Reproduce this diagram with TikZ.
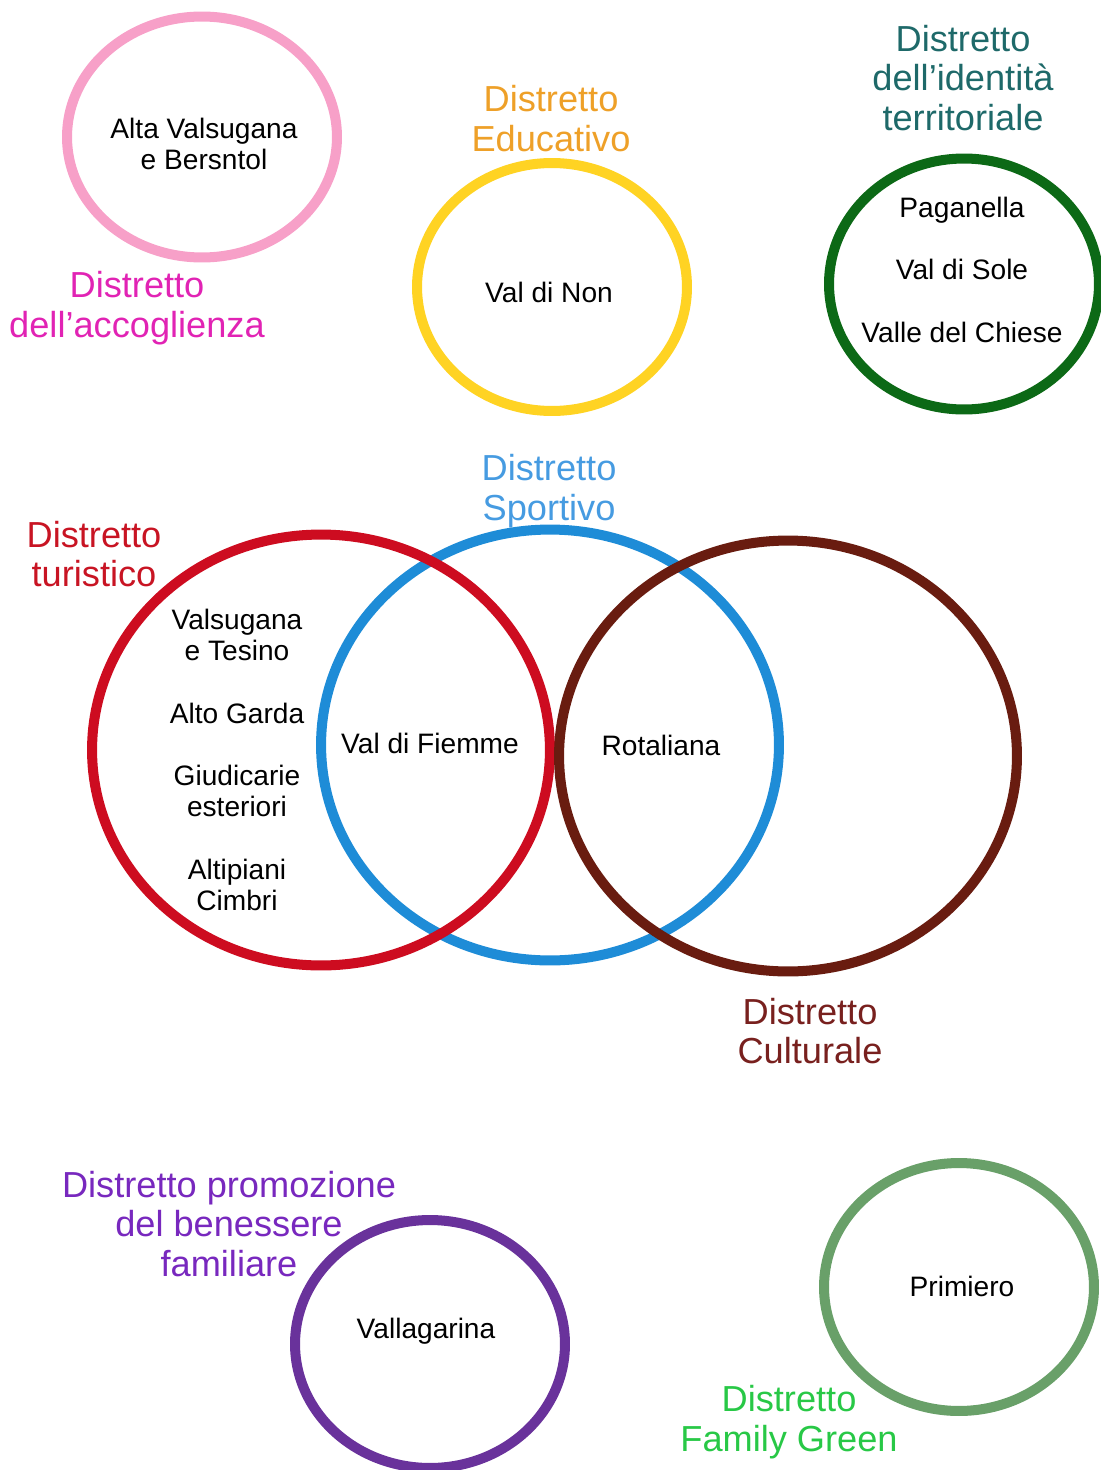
\documentclass[tikz,border=0pt]{standalone}
\usepackage{fontspec}
\setmainfont{Liberation Sans}
\usepackage{tikz}
\usetikzlibrary{positioning, shapes.geometric}
\usepackage{xcolor}

\definecolor{ringpink}{RGB}{247,160,200}
\definecolor{ringyellow}{RGB}{255,211,35}
\definecolor{ringdkgreen}{RGB}{12,105,22}
\definecolor{ringred}{RGB}{205,12,32}
\definecolor{ringblue}{RGB}{30,140,215}
\definecolor{ringbrown}{RGB}{105,28,16}
\definecolor{ringpurple}{RGB}{105,50,155}
\definecolor{ringsage}{RGB}{105,160,105}
\definecolor{tagpink}{RGB}{225,35,180}
\definecolor{tagorange}{RGB}{238,160,40}
\definecolor{tagteal}{RGB}{30,105,105}
\definecolor{tagblue}{RGB}{70,155,225}
\definecolor{tagred}{RGB}{200,20,35}
\definecolor{tagbrown}{RGB}{120,32,30}
\definecolor{tagpurple}{RGB}{120,40,190}
\definecolor{taggreen}{RGB}{40,200,70}

\begin{document}
\begin{tikzpicture}[
    x=0.02cm, y=-0.02cm,
    ring/.style={ellipse, draw, line width=5.7pt, inner sep=0pt, minimum width=5.4cm, minimum height=4.96cm},
    bigring/.style={ellipse, draw, line width=5.7pt, inner sep=0pt, minimum width=9.16cm, minimum height=8.62cm},
    place/.style={align=center, inner sep=0pt, font=\fontsize{16}{17.6}\selectfont},
    tag/.style={align=center, inner sep=0pt, font=\fontsize{20.6}{22.7}\selectfont}
]
    \useasboundingbox (0, 0) rectangle (1100, 1470);

    % Distretto dell'accoglienza
    \node[ring, draw=ringpink, minimum height=4.82cm] (acc) at (202, 137) {};
    \node[tag, text=tagpink] (accname) at (137, 308) {Distretto\\dell’accoglienza};
    \node[place] (accin) at (204, 144) {Alta Valsugana\\e Bersntol};

    % Distretto Educativo
    \node[ring, draw=ringyellow] (edu) at (552, 287) {};
    \node[tag, text=tagorange] (eduname) at (551, 119) {Distretto\\Educativo};
    \node[place, anchor=base] (non) at (549, 302) {Val di Non};

    % Distretto dell'identita territoriale
    \node[ring, draw=ringdkgreen, minimum height=5.02cm] (ident) at (964, 284) {};
    \node[tag, text=tagteal] (identname) at (963, 78) {Distretto\\dell’identità\\territoriale};
    \node[place, anchor=base] (pag) at (962, 217) {Paganella};
    \node[place, anchor=base] (sole) at (962, 279) {Val di Sole};
    \node[place, anchor=base] (chiese) at (962, 342) {Valle del Chiese};

    % Venn: turistico, Sportivo, Culturale
    \node[bigring, draw=ringblue] (sport) at (550, 745) {};
    \node[bigring, draw=ringred] (tur) at (321, 750) {};
    \node[bigring, draw=ringbrown] (cult) at (788, 756) {};
    \node[tag, text=tagblue] (sportname) at (549, 491) {Distretto\\Sportivo};
    \node[tag, text=tagred] (turname) at (94, 554) {Distretto\\turistico};
    \node[tag, text=tagbrown] (cultname) at (810, 1031) {Distretto\\Culturale};
    \node[place] (tesino) at (237, 635) {Valsugana\\e Tesino};
    \node[place, anchor=base] (garda) at (237, 723) {Alto Garda};
    \node[place] (giud) at (237, 791) {Giudicarie\\esteriori};
    \node[place] (cimbri) at (237, 885) {Altipiani\\Cimbri};
    \node[place, anchor=base] (fiemme) at (430, 753) {Val di Fiemme};
    \node[place, anchor=base] (rotal) at (661, 755) {Rotaliana};

    % Distretto promozione del benessere familiare
    \node[ring, draw=ringpurple] (ben) at (430, 1344) {};
    \node[tag, text=tagpurple] (benname) at (229, 1224) {Distretto promozione\\del benessere\\familiare};
    \node[place, anchor=base] (valla) at (426, 1338) {Vallagarina};

    % Distretto Family Green
    \node[ring, draw=ringsage] (fam) at (959, 1287) {};
    \node[tag, text=taggreen] (famname) at (789, 1422) {Distretto\\Family Green};
    \node[place, anchor=base] (prim) at (962, 1296) {Primiero};
\end{tikzpicture}
\end{document}
